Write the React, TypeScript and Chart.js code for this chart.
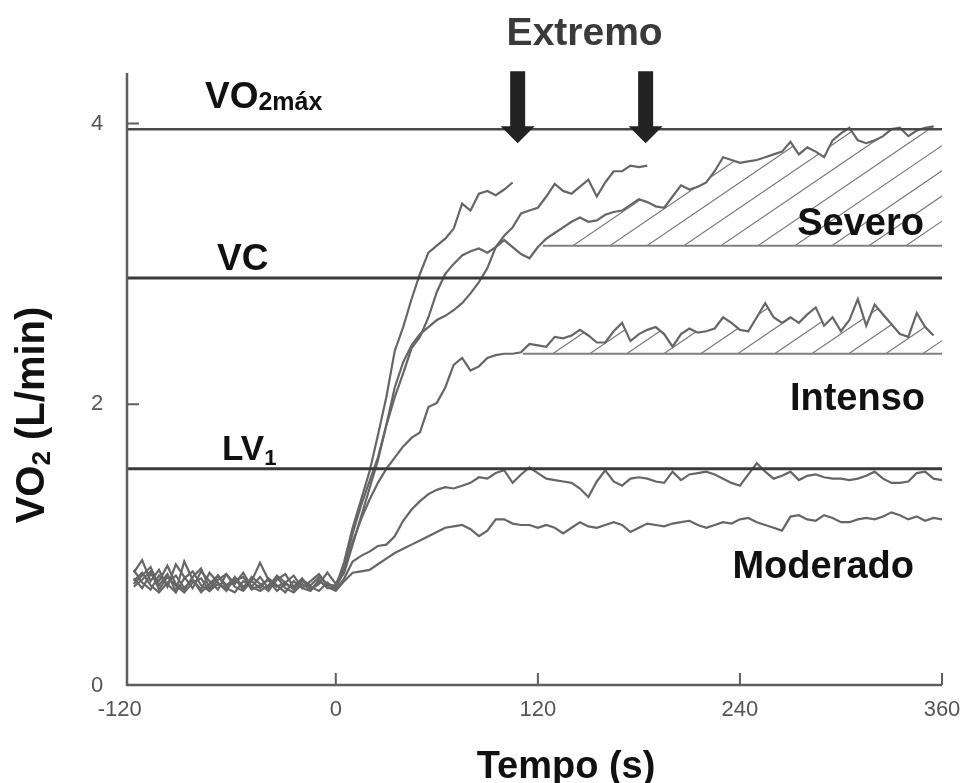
import React, { useEffect, useRef } from "react";
import { Chart, registerables } from "chart.js";
Chart.register(...registerables);

// ---------- data ----------
const TIME = [
  -120, -115, -110, -105, -100, -95, -90, -85, -80, -75, -70, -65, -60, -55, -50, -45, -40, -35, -30, -25, -20, -15, -10, -5, 0,
  5, 10, 15, 20, 25, 30, 35, 40, 45, 50, 55, 60, 65, 70, 75, 80, 85, 90, 95, 100,
  105, 110, 115, 120, 125, 130, 135, 140, 145, 150, 155, 160, 165, 170, 175, 180, 185, 190, 195, 200,
  205, 210, 215, 220, 225, 230, 235, 240, 245, 250, 255, 260, 265, 270, 275, 280, 285, 290, 295, 300,
  305, 310, 315, 320, 325, 330, 335, 340, 345, 350, 355, 360,
];

const EXTREMO_1 = [
  0.80, 0.89, 0.74, 0.82, 0.70, 0.86, 0.77, 0.69, 0.81, 0.74, 0.68, 0.79, 0.72, 0.80, 0.70, 0.77, 0.69, 0.78, 0.73, 0.68, 0.75, 0.71, 0.77, 0.72, 0.70,
  0.88, 1.12, 1.32, 1.52, 1.78, 2.05, 2.38, 2.55, 2.75, 2.93,
  3.08, 3.13, 3.18, 3.25, 3.43, 3.38, 3.50, 3.52, 3.49, 3.53, 3.58,
];

const EXTREMO_2 = [
  0.72, 0.78, 0.84, 0.71, 0.79, 0.67, 0.88, 0.75, 0.68, 0.80, 0.73, 0.67, 0.77, 0.70, 0.74, 0.87, 0.75, 0.70, 0.73, 0.78, 0.69, 0.74, 0.79, 0.71, 0.71,
  0.80, 1.00, 1.20, 1.40, 1.60, 1.85, 2.12, 2.30, 2.42, 2.50,
  2.55, 2.60, 2.63, 2.67, 2.72, 2.79, 2.87, 2.97, 3.12, 3.20,
  3.26, 3.36, 3.38, 3.40, 3.48, 3.57, 3.52, 3.50, 3.55, 3.60,
  3.48, 3.58, 3.66, 3.66, 3.70, 3.69, 3.70,
];

const SEVERO = [
  0.76, 0.69, 0.79, 0.74, 0.85, 0.72, 0.68, 0.77, 0.83, 0.69, 0.78, 0.71, 0.76, 0.68, 0.77, 0.72, 0.67, 0.75, 0.79, 0.70, 0.76, 0.68, 0.72, 0.80, 0.72,
  0.84, 1.08, 1.28, 1.45, 1.62, 1.85, 2.05, 2.22, 2.40, 2.48,
  2.62, 2.80, 2.93, 3.00, 3.06, 3.09, 3.11, 3.08, 3.12, 3.17,
  3.12, 3.07, 3.04, 3.12, 3.18, 3.22, 3.26, 3.30, 3.33, 3.30,
  3.31, 3.35, 3.37, 3.38, 3.42, 3.46, 3.44, 3.41, 3.40, 3.48,
  3.56, 3.53, 3.55, 3.58, 3.66, 3.76, 3.74, 3.72, 3.73, 3.74,
  3.76, 3.78, 3.80, 3.87, 3.78, 3.83, 3.80, 3.76, 3.88, 3.93,
  3.97, 3.88, 3.86, 3.88, 3.91, 3.96, 3.97, 3.91, 3.95, 3.97, 3.98,
];

const INTENSO = [
  0.82, 0.73, 0.68, 0.78, 0.72, 0.66, 0.76, 0.81, 0.71, 0.67, 0.75, 0.79, 0.70, 0.67, 0.74, 0.69, 0.76, 0.71, 0.66, 0.74, 0.69, 0.67, 0.75, 0.69, 0.69,
  0.82, 1.02, 1.18, 1.32, 1.44, 1.54, 1.62, 1.70, 1.76, 1.80,
  1.98, 2.01, 2.12, 2.28, 2.33, 2.24, 2.27, 2.33, 2.35, 2.36,
  2.36, 2.37, 2.43, 2.42, 2.41, 2.48, 2.47, 2.49, 2.53, 2.49,
  2.44, 2.44, 2.52, 2.58, 2.45, 2.50, 2.53, 2.55, 2.50, 2.41,
  2.50, 2.54, 2.51, 2.52, 2.54, 2.62, 2.58, 2.53, 2.52, 2.62,
  2.72, 2.62, 2.58, 2.62, 2.58, 2.64, 2.69, 2.56, 2.62, 2.52,
  2.60, 2.75, 2.56, 2.71, 2.64, 2.57, 2.50, 2.48, 2.65, 2.55, 2.49,
];

const MODERADO_1 = [
  0.70, 0.75, 0.81, 0.68, 0.77, 0.71, 0.66, 0.73, 0.76, 0.67, 0.72, 0.69, 0.74, 0.77, 0.68, 0.71, 0.75, 0.67, 0.72, 0.69, 0.74, 0.70, 0.67, 0.73, 0.68,
  0.76, 0.88, 0.92, 0.95, 0.99, 1.00, 1.06, 1.17, 1.25, 1.31,
  1.36, 1.39, 1.41, 1.40, 1.42, 1.44, 1.48, 1.47, 1.51, 1.53,
  1.44, 1.50, 1.55, 1.51, 1.47, 1.46, 1.45, 1.44, 1.40, 1.34,
  1.45, 1.53, 1.45, 1.42, 1.47, 1.48, 1.47, 1.45, 1.44, 1.52,
  1.46, 1.50, 1.51, 1.52, 1.50, 1.47, 1.44, 1.42, 1.50, 1.58,
  1.52, 1.47, 1.49, 1.52, 1.46, 1.49, 1.50, 1.48, 1.47, 1.47,
  1.46, 1.47, 1.49, 1.52, 1.47, 1.44, 1.44, 1.45, 1.51, 1.52, 1.47, 1.46,
];

const MODERADO_2 = [
  0.74, 0.80, 0.71, 0.66, 0.73, 0.78, 0.69, 0.75, 0.66, 0.72, 0.78, 0.69, 0.66, 0.74, 0.70, 0.67, 0.71, 0.77, 0.69, 0.66, 0.72, 0.68, 0.74, 0.70, 0.67,
  0.74, 0.80, 0.81, 0.82, 0.86, 0.90, 0.94, 0.97, 1.00, 1.03,
  1.06, 1.09, 1.12, 1.13, 1.14, 1.11, 1.06, 1.10, 1.18, 1.18,
  1.15, 1.14, 1.14, 1.12, 1.14, 1.12, 1.08, 1.12, 1.16, 1.13,
  1.12, 1.14, 1.16, 1.14, 1.09, 1.12, 1.15, 1.14, 1.13, 1.15,
  1.16, 1.17, 1.14, 1.12, 1.14, 1.16, 1.15, 1.18, 1.19, 1.16,
  1.14, 1.12, 1.10, 1.20, 1.21, 1.18, 1.17, 1.21, 1.19, 1.16,
  1.16, 1.18, 1.19, 1.18, 1.20, 1.23, 1.21, 1.18, 1.20, 1.17, 1.19, 1.18,
];

// thresholds (L/min)
const VO2MAX = 3.96;
const VC = 2.9;
const LV1 = 1.54;
// hatched domains: floor value and start time (s)
const SEVERO_FLOOR = 3.13;
const SEVERO_FROM = 123;
const INTENSO_FLOOR = 2.36;
const INTENSO_FROM = 111;
// "Extremo" arrows: time (s) and tip value
const ARROW_TIMES = [108, 184];
const ARROW_TIP = 3.86;

const X_TICKS = [-120, 0, 120, 240, 360];
const Y_TICKS = [0, 2, 4];
const X_MIN = -124;
const X_MAX = 360;
const Y_MAX = 4.36;

const FONT = '"Liberation Sans", Arial, Helvetica, sans-serif';

function valueAt(data: { x: number; y: number }[], t: number) {
  for (let i = 1; i < data.length; i++) {
    if (data[i].x >= t) {
      const a = data[i - 1], b = data[i];
      return a.y + ((b.y - a.y) * (t - a.x)) / (b.x - a.x);
    }
  }
  return data[data.length - 1].y;
}

function hatch(chart: any, label: string, floor: number, from: number) {
  const ctx = chart.ctx;
  const xs = chart.scales.x, ys = chart.scales.y;
  const ds = chart.data.datasets.find((d: any) => d.label === label);
  const data = ds.data as { x: number; y: number }[];
  const yF = ys.getPixelForValue(floor);
  const x0 = xs.getPixelForValue(from);
  const x1 = xs.getPixelForValue(X_MAX);
  ctx.save();
  ctx.beginPath();
  ctx.moveTo(x0, yF);
  ctx.lineTo(x0, ys.getPixelForValue(valueAt(data, from)));
  let lastY = yF;
  data.forEach((p) => {
    if (p.x > from) {
      lastY = ys.getPixelForValue(p.y);
      ctx.lineTo(xs.getPixelForValue(p.x), lastY);
    }
  });
  ctx.lineTo(x1, lastY);
  ctx.lineTo(x1, yF);
  ctx.closePath();
  ctx.clip();
  const slope = 0.68;
  const H = 200;
  const step = 37;
  ctx.strokeStyle = "#777";
  ctx.lineWidth = 1.2;
  ctx.beginPath();
  for (let bx = x0 + 30 - step * 10; bx < x1 + 10; bx += step) {
    ctx.moveTo(bx, yF);
    ctx.lineTo(bx + H / slope, yF - H);
  }
  ctx.stroke();
  ctx.restore();
}

const overlay = {
  id: "overlay",
  beforeDatasetsDraw(chart: any) {
    hatch(chart, "Severo", SEVERO_FLOOR, SEVERO_FROM);
    hatch(chart, "Intenso", INTENSO_FLOOR, INTENSO_FROM);
  },
  afterDraw(chart: any) {
    const ctx = chart.ctx;
    const a = chart.chartArea;
    const xs = chart.scales.x, ys = chart.scales.y;
    ctx.save();
    // axes
    ctx.strokeStyle = "#5e5e5e";
    ctx.lineWidth = 2.5;
    ctx.beginPath();
    ctx.moveTo(a.left, a.top);
    ctx.lineTo(a.left, a.bottom);
    ctx.lineTo(a.right, a.bottom);
    ctx.stroke();
    ctx.lineWidth = 2;
    ctx.beginPath();
    Y_TICKS.forEach((v) => {
      if (v === 0) return;
      const py = ys.getPixelForValue(v);
      ctx.moveTo(a.left, py);
      ctx.lineTo(a.left + 12, py);
    });
    X_TICKS.forEach((t) => {
      if (t === X_TICKS[0]) return;
      const px = xs.getPixelForValue(t);
      ctx.moveTo(px, a.bottom);
      ctx.lineTo(px, a.bottom - 12);
    });
    ctx.stroke();

    // tick labels
    ctx.fillStyle = "#555";
    ctx.font = `22px ${FONT}`;
    ctx.textAlign = "center";
    ctx.textBaseline = "middle";
    Y_TICKS.forEach((v) => {
      ctx.fillText(String(v), a.left - 30, ys.getPixelForValue(v) + (v === 0 ? 1 : 0));
    });
    X_TICKS.forEach((t, i) => {
      ctx.fillText(String(t), xs.getPixelForValue(t) + (i === 0 ? -14 : 0), a.bottom + 25);
    });

    // arrows
    ctx.fillStyle = "#222";
    ARROW_TIMES.forEach((t) => {
      const px = xs.getPixelForValue(t);
      const tip = ys.getPixelForValue(ARROW_TIP);
      ctx.beginPath();
      ctx.moveTo(px - 7.5, tip - 72);
      ctx.lineTo(px + 7.5, tip - 72);
      ctx.lineTo(px + 7.5, tip - 17);
      ctx.lineTo(px + 17, tip - 17);
      ctx.lineTo(px, tip);
      ctx.lineTo(px - 17, tip - 17);
      ctx.lineTo(px - 7.5, tip - 17);
      ctx.closePath();
      ctx.fill();
    });

    // labels
    ctx.textBaseline = "alphabetic";
    ctx.fillStyle = "#3a3a3a";
    ctx.font = `bold 39px ${FONT}`;
    ctx.textAlign = "center";
    const midArrows = (xs.getPixelForValue(ARROW_TIMES[0]) + xs.getPixelForValue(ARROW_TIMES[1])) / 2;
    ctx.fillText("Extremo", midArrows + 3, 45);

    ctx.fillStyle = "#111";
    ctx.textAlign = "left";
    // VO2max
    ctx.font = `bold 37px ${FONT}`;
    const vy = ys.getPixelForValue(VO2MAX) - 21;
    ctx.fillText("VO", 205, vy);
    const wVO = ctx.measureText("VO").width;
    ctx.font = `bold 25px ${FONT}`;
    ctx.fillText("2máx", 205 + wVO, vy + 2);
    // VC
    ctx.font = `bold 37px ${FONT}`;
    ctx.fillText("VC", 217, ys.getPixelForValue(VC) - 8);
    // LV1
    ctx.font = `bold 35px ${FONT}`;
    const ly = ys.getPixelForValue(LV1) - 9;
    ctx.fillText("LV", 222, ly);
    const wLV = ctx.measureText("LV").width;
    ctx.font = `bold 22px ${FONT}`;
    ctx.fillText("1", 222 + wLV, ly + 5);

    ctx.font = `bold 38px ${FONT}`;
    ctx.textAlign = "right";
    ctx.fillText("Severo", 924, 235);
    ctx.fillText("Intenso", 925, 410);
    ctx.fillText("Moderado", 914, 578);

    // axis titles
    ctx.textAlign = "center";
    ctx.font = `bold 38px ${FONT}`;
    ctx.fillText("Tempo (s)", 566, 778);

    ctx.translate(44, 415);
    ctx.rotate(-Math.PI / 2);
    ctx.textAlign = "left";
    ctx.font = `bold 40px ${FONT}`;
    const p1 = "VO";
    const p3 = " (L/min)";
    const w1 = ctx.measureText(p1).width;
    const w3 = ctx.measureText(p3).width;
    ctx.font = `bold 26px ${FONT}`;
    const w2 = ctx.measureText("2").width;
    const total = w1 + w2 + w3;
    let cx = -total / 2;
    ctx.font = `bold 40px ${FONT}`;
    ctx.fillText(p1, cx, 0);
    cx += w1;
    ctx.font = `bold 26px ${FONT}`;
    ctx.fillText("2", cx, 6);
    cx += w2;
    ctx.font = `bold 40px ${FONT}`;
    ctx.fillText(p3, cx, 0);
    ctx.restore();
  },
};

export default function App() {
  const ref = useRef<HTMLCanvasElement>(null);
  useEffect(() => {
    if (!ref.current) return;
    const pts = (vals: number[]) => vals.map((v, i) => ({ x: TIME[i], y: v }));
    const curve = (label: string, vals: number[]) => ({
      label,
      data: pts(vals),
      borderColor: "#666",
      borderWidth: 2.2,
      pointRadius: 0,
      tension: 0,
      fill: false,
    });
    const hline = (label: string, v: number, from: number, color: string, w: number) => ({
      label,
      data: [
        { x: from, y: v },
        { x: X_MAX, y: v },
      ],
      borderColor: color,
      borderWidth: w,
      pointRadius: 0,
      tension: 0,
      fill: false,
    });
    const chart = new Chart(ref.current, {
      type: "line",
      data: {
        datasets: [
          hline("VO2max", VO2MAX, X_MIN, "#4a4a4a", 2.5),
          hline("VC", VC, X_MIN, "#3a3a3a", 3),
          hline("LV1", LV1, X_MIN, "#3a3a3a", 3),
          hline("SeveroFloor", SEVERO_FLOOR, SEVERO_FROM, "#808080", 2),
          hline("IntensoFloor", INTENSO_FLOOR, INTENSO_FROM, "#808080", 2),
          curve("Moderado2", MODERADO_2),
          curve("Moderado1", MODERADO_1),
          curve("Intenso", INTENSO),
          curve("Severo", SEVERO),
          curve("Extremo2", EXTREMO_2),
          curve("Extremo1", EXTREMO_1),
        ] as any,
      },
      options: {
        animation: false,
        responsive: true,
        maintainAspectRatio: false,
        layout: { padding: { left: 127, right: 27, top: 73, bottom: 98 } },
        plugins: { legend: { display: false }, tooltip: { enabled: false } },
        events: [],
        scales: {
          x: { type: "linear", min: X_MIN, max: X_MAX, display: false },
          y: { type: "linear", min: 0, max: Y_MAX, display: false },
        },
      },
      plugins: [overlay],
    });
    return () => chart.destroy();
  }, []);
  return (
    <div style={{ position: "fixed", left: 0, top: 0, width: 969, height: 783, background: "#fff" }}>
      <canvas ref={ref} />
    </div>
  );
}
